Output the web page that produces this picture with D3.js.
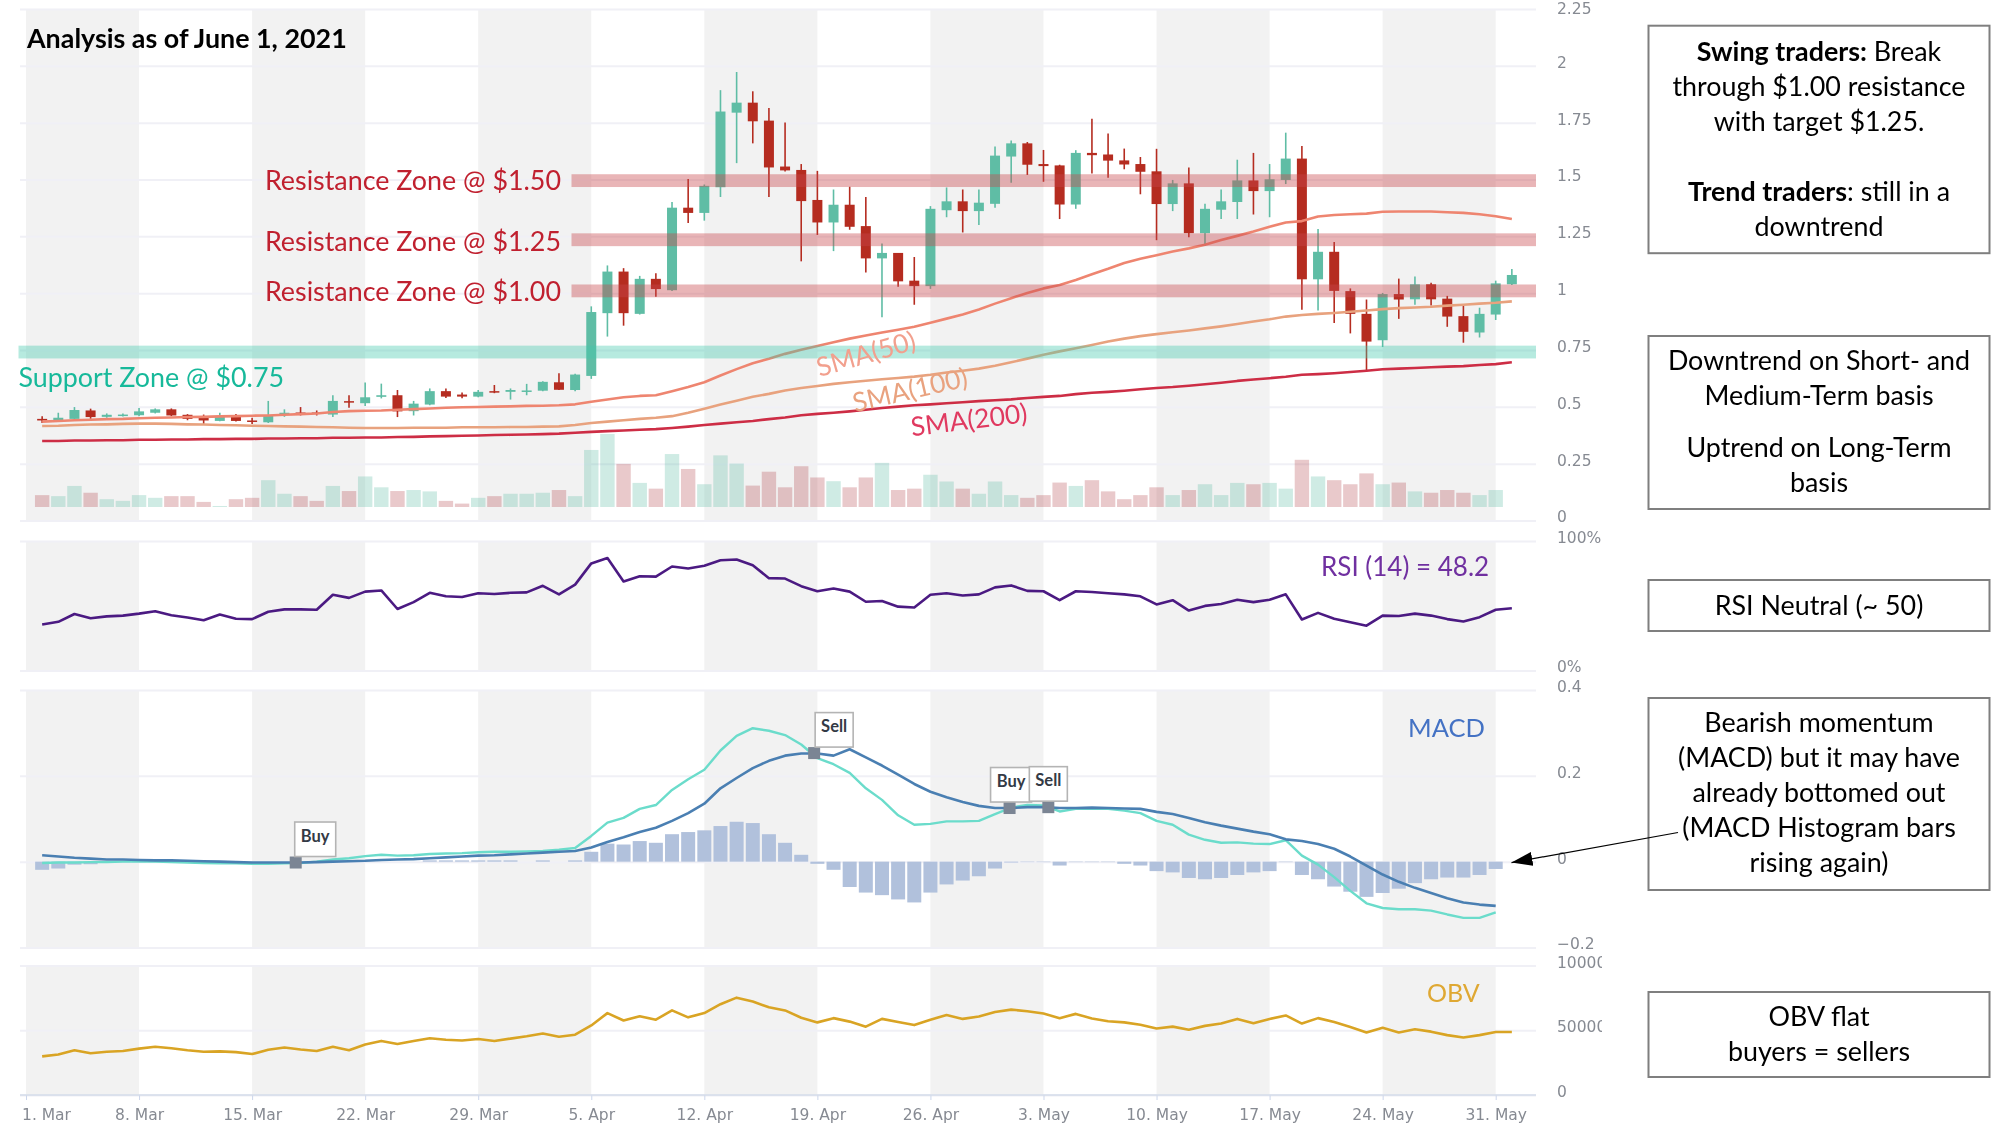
<!DOCTYPE html>
<html>
<head>
<meta charset="utf-8">
<title>Analysis as of June 1, 2021</title>
<script src="https://cdn.jsdelivr.net/npm/d3@7/dist/d3.min.js"></script>
<style>
	html, body { margin: 0; padding: 0; background: #fff; }
	svg { display: block; filter: blur(.4px); }
	text { font-family: Lato, "Open Sans", sans-serif; }
	.tick-label { font-family: "DejaVu Sans", sans-serif; font-size: 15.5px; fill: #868a92; }
</style>
</head>
<body>
<svg id="chart" width="1995" height="1125"></svg>
<script>
/* daily candles run 2 Mar to 1 Jun 2021 */
var opens = [
	.447,.440,.447,.484,.456,.460,.463,.474,.489,.465,
	.452,.438,.459,.440,.432,.465,.475,.475,.466,.525,
	.516,.544,.551,.481,.510,.569,.554,.545,.569,.566,
	.568,.571,.608,.574,.636,.912,1.095,.909,1.063,1.013,
	1.376,1.353,1.466,1.794,1.838,1.759,1.557,1.542,1.410,1.311,
	1.389,1.295,1.153,1.177,1.055,1.031,1.365,1.404,1.361,1.393,
	1.601,1.659,1.568,1.562,1.390,1.617,1.610,1.584,1.568,1.536,
	1.392,1.483,1.264,1.367,1.401,1.496,1.449,1.498,1.592,1.061,
	1.182,1.009,.909,.793,.996,.973,1.039,.976,.899,.827,
	.906,1.039
];
var highs = [
	.459,.474,.499,.492,.471,.471,.495,.493,.493,.468,
	.466,.474,.468,.452,.526,.489,.499,.484,.551,.551,
	.607,.602,.574,.526,.581,.581,.563,.574,.596,.581,
	.601,.613,.648,.645,.942,1.122,1.110,1.076,1.088,1.401,
	1.502,1.478,1.893,1.973,1.888,1.815,1.751,1.568,1.538,1.456,
	1.468,1.423,1.219,1.177,1.159,1.383,1.465,1.456,1.456,1.645,
	1.672,1.665,1.630,1.565,1.629,1.767,1.702,1.636,1.599,1.635,
	1.498,1.553,1.393,1.456,1.587,1.617,1.568,1.706,1.647,1.282,
	1.225,1.021,.972,1.001,1.064,1.073,1.046,.988,.946,.936,
	1.055,1.106
];
var lows = [
	.429,.437,.440,.447,.452,.458,.459,.471,.459,.441,
	.425,.437,.435,.425,.429,.456,.462,.462,.455,.496,
	.504,.537,.455,.462,.507,.539,.538,.542,.560,.532,
	.551,.569,.574,.569,.623,.809,.857,.906,.984,1.010,
	1.309,1.319,1.423,1.572,1.659,1.423,1.535,1.140,1.256,1.185,
	1.279,1.091,.894,1.028,.949,1.019,1.334,1.267,1.300,1.376,
	1.486,1.520,1.490,1.326,1.371,1.526,1.508,1.545,1.435,1.233,
	1.361,1.246,1.207,1.326,1.326,1.346,1.334,1.480,.927,.924,
	.869,.823,.656,.763,.887,.949,.946,.852,.782,.805,
	.882,1.036
];
var closes = [
	.440,.452,.486,.455,.465,.466,.480,.489,.462,.447,
	.440,.459,.438,.434,.462,.474,.469,.469,.526,.519,
	.542,.551,.480,.514,.569,.545,.545,.566,.563,.574,
	.572,.610,.575,.642,.917,1.095,.912,1.063,1.018,1.376,
	1.353,1.472,1.799,1.838,1.756,1.553,1.540,1.405,1.311,1.389,
	1.292,1.153,1.177,1.052,1.031,1.371,1.404,1.361,1.398,1.605,
	1.659,1.565,1.559,1.390,1.617,1.607,1.583,1.566,1.534,1.392,
	1.483,1.264,1.371,1.404,1.496,1.449,1.501,1.592,1.061,1.182,
	1.010,.909,.787,.996,.972,1.039,.973,.897,.830,.909,
	1.043,1.080
];
var volumes = [
	35,32,62,42,23,18,35,27,32,32,
	15,3,23,27,79,39,32,18,62,47,
	90,58,47,50,46,18,10,27,32,39,
	39,42,50,32,168,215,127,71,54,156,
	112,67,152,128,63,104,58,120,87,76,
	58,87,130,50,54,95,75,54,39,75,
	35,27,35,72,62,79,46,23,35,58,
	35,50,67,35,71,67,71,54,139,90,
	79,67,99,67,72,46,42,50,42,35,
	50
];
var sma50 = [
	.435,.438,.441,.443,.446,.447,.450,.452,.453,.455,
	.456,.458,.459,.461,.462,.465,.468,.471,.477,.481,
	.483,.484,.487,.490,.493,.496,.498,.499,.501,.502,
	.504,.505,.507,.511,.522,.532,.542,.548,.551,.569,
	.587,.608,.638,.666,.692,.711,.733,.751,.768,.784,
	.800,.814,.827,.839,.852,.870,.888,.906,.928,.954,
	.978,1.001,1.021,1.036,1.058,1.083,1.107,1.133,1.151,1.167,
	1.183,1.197,1.213,1.234,1.252,1.271,1.292,1.311,1.317,1.337,
	1.344,1.347,1.350,1.358,1.359,1.359,1.359,1.356,1.353,1.347,
	1.338,1.326
];
var sma100 = [
	.416,.417,.420,.422,.423,.425,.426,.426,.425,.423,
	.422,.420,.419,.417,.416,.414,.413,.411,.410,.408,
	.407,.407,.407,.408,.408,.408,.410,.410,.410,.411,
	.411,.413,.414,.420,.429,.435,.441,.447,.452,.459,
	.474,.492,.510,.527,.544,.557,.572,.583,.592,.601,
	.608,.615,.621,.627,.633,.641,.651,.659,.668,.681,
	.696,.712,.729,.744,.758,.772,.787,.800,.811,.820,
	.828,.836,.845,.854,.864,.875,.885,.897,.904,.909,
	.913,.918,.924,.930,.934,.937,.940,.945,.949,.954,
	.958,.964
];
var sma200 = [
	.350,.350,.352,.352,.353,.353,.355,.355,.356,.356,
	.358,.358,.359,.359,.361,.361,.362,.362,.364,.364,
	.365,.365,.367,.368,.370,.371,.373,.374,.376,.377,
	.378,.380,.382,.386,.390,.393,.396,.399,.402,.407,
	.413,.420,.426,.432,.438,.446,.453,.463,.469,.474,
	.480,.487,.495,.501,.507,.511,.516,.520,.525,.529,
	.533,.539,.544,.548,.556,.562,.566,.571,.577,.583,
	.587,.593,.599,.606,.614,.620,.626,.632,.641,.644,
	.648,.653,.659,.665,.668,.671,.674,.677,.679,.684,
	.688,.696
];
var rsi = [
	35.5,37.6,43.6,40.3,41.8,42.4,43.9,45.7,42.7,40.9,
	38.8,43.3,40.0,39.7,45.4,47.2,47.2,46.9,58.5,56.1,
	60.9,61.8,47.5,52.8,60.0,57.3,56.7,59.7,59.1,60.0,
	60.3,65.4,58.8,66.3,82.7,86.9,68.7,72.8,72.5,80.3,
	78.8,80.9,85.1,85.7,81.2,71.3,71.0,65.1,61.2,63.3,
	60.9,53.1,53.7,49.3,48.7,58.5,59.7,57.9,58.8,64.2,
	65.7,61.5,61.2,54.3,61.2,60.6,59.7,58.8,57.3,51.0,
	54.3,46.3,49.9,51.3,54.6,52.8,54.6,58.8,39.4,44.5,
	40.0,37.3,34.6,42.4,42.1,43.9,42.4,39.7,37.9,41.2,
	46.9,48.1
];
var macdLine = [
	.015,.012,.009,.007,.005,.005,.004,.003,.003,.002,
	.001,0,-.001,-.002,-.002,-.002,-.002,-.001,0,.001,
	.002,.004,.005,.006,.008,.010,.012,.014,.015,.017,
	.019,.021,.023,.025,.033,.046,.057,.069,.079,.095,
	.113,.135,.171,.195,.218,.235,.247,.252,.252,.247,
	.262,.243,.224,.203,.181,.163,.150,.139,.130,.125,
	.125,.127,.127,.125,.125,.126,.125,.124,.123,.116,
	.111,.102,.092,.084,.077,.070,.064,.052,.048,.041,
	.030,.012,-.009,-.030,-.047,-.061,-.073,-.085,-.095,-.100,
	-.103
];
var macdSignal = [
	-.003,-.002,-.002,-.001,-.001,0,0,0,-.001,-.002,
	-.003,-.004,-.004,-.005,-.005,-.004,-.003,0,.005,.008,
	.013,.016,.014,.015,.018,.019,.020,.022,.023,.023,
	.024,.025,.028,.032,.060,.091,.102,.123,.132,.167,
	.192,.214,.259,.293,.311,.305,.295,.273,.241,.227,
	.207,.171,.144,.108,.086,.088,.094,.094,.095,.111,
	.126,.132,.131,.117,.123,.124,.123,.119,.113,.095,
	.086,.063,.051,.044,.045,.042,.041,.050,.014,-.007,
	-.036,-.068,-.097,-.108,-.111,-.111,-.114,-.123,-.131,-.131,
	-.118
];
var macdHist = [
	-.019,-.016,-.007,-.006,-.002,-.001,-.001,-.001,0,0,
	0,0,0,0,0,0,0,0,0,0,
	0,0,0,0,.003,.003,.003,.003,.003,.003,
	0,.003,0,.003,.023,.042,.040,.048,.044,.064,
	.069,.073,.083,.093,.090,.064,.044,.016,-.005,-.019,
	-.059,-.072,-.078,-.088,-.095,-.072,-.053,-.044,-.034,-.016,
	-.002,-.001,-.001,-.009,-.001,-.001,-.001,-.005,-.009,-.022,
	-.025,-.038,-.041,-.038,-.031,-.025,-.022,-.001,-.031,-.041,
	-.058,-.070,-.082,-.073,-.063,-.050,-.041,-.037,-.037,-.031,
	-.017
];
var obv = [
	29850,31340,34630,32240,33430,34030,35820,37310,36120,34630,
	33430,33730,33130,31640,34920,36720,35220,34030,37310,34630,
	39100,41790,39400,41790,43880,42690,42090,43280,41790,43580,
	45370,47460,45070,46570,53730,63280,57610,60890,58210,65370,
	60000,63280,70150,75220,72240,67760,65370,59700,56120,59400,
	56720,52830,58810,56420,54030,58210,61790,58810,60600,64180,
	65970,64780,62980,59400,62690,59100,57010,56120,54330,51340,
	52830,50450,53430,55220,58810,55520,58810,61490,55220,59400,
	56420,52540,48360,51940,48360,50750,48950,46270,44480,46270,
	48660,48660
];

var weekDays = [0, 7, 14, 21, 28, 35, 42, 49, 56, 63, 70, 77, 84, 91];
var weekLabels = ["1. Mar", "8. Mar", "15. Mar", "22. Mar", "29. Mar", "5. Apr", "12. Apr", "19. Apr", "26. Apr", "3. May", "10. May", "17. May", "24. May", "31. May"];
var priceTicks = [0, .25, .5, .75, 1, 1.25, 1.5, 1.75, 2, 2.25];
var rsiTicks = [0, 100];
var macdTicks = [-.2, 0, .2, .4];
var obvTicks = [0, 50000, 100000];
var resistanceLevels = [1.495, 1.235, 1.01];
var resistanceLabels = ["Resistance Zone @ $1.50", "Resistance Zone @ $1.25", "Resistance Zone @ $1.00"];
var supportLevel = .741;
var flagDays = [16.7, 48.8, 60.9, 63.3];
var flagValues = [-.002, .253, .125, .127];
var flagNames = ["Buy", "Sell", "Buy", "Sell"];

var svg = d3.select("#chart");
var leftX = 20, rightX = 1536;
var GREEN = "#5fbda5", RED = "#b52c20";

var xDay = d3.scaleLinear().domain([0, 91]).range([26, 1495.7]);
// candle i is the day after the day-offset i, so 2 Mar lands one step right of the 1 Mar tick
var xCandle = function (i) { return xDay(i + 1); };

var yPrice = d3.scaleLinear().domain([0, 2.25]).range([520.5, 9]);
var yVol = d3.scaleLinear().domain([0, 215]).range([507, 434]);
var yRsi = d3.scaleLinear().domain([0, 100]).range([670.5, 541]);
var yMacd = d3.scaleLinear().domain([-.2, .4]).range([947.5, 690]);
var yObv = d3.scaleLinear().domain([0, 100000]).range([1095, 965.6]);

var panels = [
	{ y: yPrice, ticks: priceTicks, fmt: function (d) { return String(d); } },
	{ y: yRsi, ticks: rsiTicks, fmt: function (d) { return d + "%"; } },
	{ y: yMacd, ticks: macdTicks, fmt: function (d) { return d < 0 ? "\u2212" + Math.abs(d) : String(d); } },
	{ y: yObv, ticks: obvTicks, fmt: function (d) { return String(d); } }
];

// clip the axis labels: the long OBV labels get cut off in the original
svg.append("clipPath").attr("id", "axisClip").append("rect")
	.attr("x", 1540).attr("y", 0).attr("width", 62).attr("height", 1125);

// grey week bands, grid lines and the labels on the right
panels.forEach(function (p) {
	var range = p.y.range();
	for (var w = 0; w < weekDays.length - 1; w += 2) {
		svg.append("rect")
			.attr("x", xDay(weekDays[w]))
			.attr("y", range[1])
			.attr("width", xDay(weekDays[w + 1]) - xDay(weekDays[w]))
			.attr("height", range[0] - range[1])
			.attr("fill", "#f2f2f2");
	}
	var grid = d3.axisRight(p.y).tickValues(p.ticks).tickSize(rightX - leftX).tickFormat("");
	var g = svg.append("g").attr("transform", "translate(" + leftX + ",0)").call(grid);
	g.select(".domain").remove();
	g.selectAll(".tick line").attr("stroke", "#f0f0f6").attr("stroke-width", 2);

	var labels = d3.axisRight(p.y).tickValues(p.ticks).tickSize(0).tickPadding(0).tickFormat(p.fmt);
	var lg = svg.append("g").attr("clip-path", "url(#axisClip)")
		.append("g").attr("transform", "translate(1557,-3.5)").call(labels);
	lg.select(".domain").remove();
	lg.selectAll(".tick text").attr("class", "tick-label");
	// 2.25 would otherwise touch the top of the page
	lg.selectAll(".tick text").filter(function (d) { return d === 2.25; }).attr("dy", "0.5em");
});

// volume behind the candles
svg.append("g").selectAll("rect").data(volumes).join("rect")
	.attr("x", function (d, i) { return xCandle(i) - 7.2; })
	.attr("y", function (d) { return yVol(d); })
	.attr("width", 14.4)
	.attr("height", function (d) { return yVol(0) - yVol(d); })
	.attr("fill", function (d, i) { return closes[i] >= opens[i] ? "rgba(95,190,165,.3)" : "rgba(176,60,70,.28)"; });

// candles
var candles = svg.append("g").selectAll("g").data(d3.range(opens.length)).join("g")
	.attr("fill", function (i) { return closes[i] >= opens[i] ? GREEN : RED; })
	.attr("stroke", function (i) { return closes[i] >= opens[i] ? GREEN : RED; });
candles.append("line")
	.attr("x1", function (i) { return xCandle(i); })
	.attr("x2", function (i) { return xCandle(i); })
	.attr("y1", function (i) { return yPrice(highs[i]); })
	.attr("y2", function (i) { return yPrice(lows[i]); })
	.attr("stroke-width", 1.6);
candles.append("rect")
	.attr("x", function (i) { return xCandle(i) - 5; })
	.attr("y", function (i) { return yPrice(Math.max(opens[i], closes[i])); })
	.attr("width", 10)
	.attr("height", function (i) { return Math.max(1.5, Math.abs(yPrice(opens[i]) - yPrice(closes[i]))); })
	.attr("stroke", "none");

function drawLine(values, y, color, width) {
	var line = d3.line()
		.x(function (d, i) { return xCandle(i); })
		.y(function (d) { return y(d); });
	svg.append("path")
		.attr("d", line(values))
		.attr("fill", "none")
		.attr("stroke", color)
		.attr("stroke-width", width)
		.attr("stroke-linejoin", "round");
}

drawLine(sma200, yPrice, "#cd2d45", 2.6);
drawLine(sma100, yPrice, "#e8a27e", 2.6);
drawLine(sma50, yPrice, "#ee8570", 2.6);

// zones sit over the candles, that is why bodies look muddy inside them
svg.append("g").selectAll("rect").data(resistanceLevels).join("rect")
	.attr("x", 571.5)
	.attr("y", function (d) { return yPrice(d) - 6.4; })
	.attr("width", rightX - 571.5)
	.attr("height", 12.8)
	.attr("fill", "rgba(200,70,75,.4)");
svg.append("rect")
	.attr("x", 18.5)
	.attr("y", yPrice(supportLevel) - 6.4)
	.attr("width", rightX - 18.5)
	.attr("height", 12.8)
	.attr("fill", "rgba(64,200,170,.38)");

// RSI
drawLine(rsi, yRsi, "#4b1a82", 2.6);

// MACD histogram, lines, flags
svg.append("g").selectAll("rect").data(macdHist).join("rect")
	.attr("x", function (d, i) { return xCandle(i) - 7; })
	.attr("y", function (d) { return Math.min(yMacd(d), yMacd(0)); })
	.attr("width", 14)
	.attr("height", function (d) { return Math.abs(yMacd(d) - yMacd(0)); })
	.attr("fill", "#b1c1dc");
drawLine(macdSignal, yMacd, "#6bdccb", 2.4);
drawLine(macdLine, yMacd, "#4a7fb2", 2.6);

// the first two flag boxes hang off to the right of their marker, the last two are centred on it
var flagBoxLeft = [-1, 1, -19, -19];
var flags = svg.append("g").selectAll("g").data(flagNames).join("g")
	.attr("transform", function (d, i) { return "translate(" + xDay(flagDays[i]) + "," + yMacd(flagValues[i]) + ")"; });
flags.append("rect")
	.attr("x", -6).attr("y", -6).attr("width", 12).attr("height", 12).attr("fill", "#7b8594");
flags.append("rect")
	.attr("x", function (d, i) { return flagBoxLeft[i]; })
	.attr("y", -40.5)
	.attr("width", function (d) { return d === "Buy" ? 41 : 38; })
	.attr("height", 34.5)
	.attr("fill", "#fff")
	.attr("stroke", "#b4b4b4")
	.attr("stroke-width", 1.6);
flags.append("text")
	.attr("x", function (d, i) { return flagBoxLeft[i] + (d === "Buy" ? 20.5 : 19); })
	.attr("y", -21)
	.attr("text-anchor", "middle")
	.attr("font-size", 16.5)
	.attr("font-weight", 700)
	.attr("fill", "#333a45")
	.text(function (d) { return d; });

// OBV
drawLine(obv, yObv, "#d9a424", 2.6);

// date axis
var xAxis = d3.axisBottom(xDay).tickValues(weekDays).tickSize(5).tickFormat(function (d, i) { return weekLabels[i]; });
var xg = svg.append("g").attr("transform", "translate(0,1095)").call(xAxis);
xg.select(".domain").remove();
xg.selectAll(".tick line").attr("stroke", "#ccd6eb");
xg.selectAll(".tick text").attr("class", "tick-label").attr("y", 14);
xg.select(".tick text").attr("dx", 20);
svg.append("line").attr("x1", leftX).attr("x2", rightX).attr("y1", 1095).attr("y2", 1095)
	.attr("stroke", "#d5dcea").attr("stroke-width", 1.5);

// hand placed labels
svg.append("text").attr("x", 27).attr("y", 48).attr("font-size", 26.85).attr("font-weight", 700).attr("fill", "#000")
	.text("Analysis as of June 1, 2021");
svg.append("g").selectAll("text").data(resistanceLabels).join("text")
	.attr("x", 561)
	.attr("y", function (d, i) { return [190, 251, 301][i]; })
	.attr("text-anchor", "end")
	.attr("font-size", 26.85)
	.attr("fill", "#c0202f")
	.text(function (d) { return d; });
svg.append("text").attr("x", 18.5).attr("y", 387).attr("font-size", 26.85).attr("fill", "#17b99a").text("Support Zone @ $0.75");

var smaLabels = [
	{ t: "SMA(50)", x: 866, y: 354, r: -16, c: "#f2a08e" },
	{ t: "SMA(100)", x: 910, y: 390, r: -13, c: "#e9a27f" },
	{ t: "SMA(200)", x: 969, y: 420, r: -7, c: "#e03a60" }
];
smaLabels.forEach(function (s) {
	svg.append("text")
		.attr("transform", "translate(" + s.x + "," + s.y + ") rotate(" + s.r + ")")
		.attr("text-anchor", "middle")
		.attr("dy", "0.35em")
		.attr("font-size", 26.5)
		.attr("fill", s.c)
		.text(s.t);
});

svg.append("text").attr("x", 1321).attr("y", 576).attr("font-size", 26).attr("fill", "#7030a0").text("RSI (14) = 48.2");
svg.append("text").attr("x", 1408).attr("y", 737).attr("font-size", 25.5).attr("fill", "#4472c4").text("MACD");
svg.append("text").attr("x", 1427).attr("y", 1002).attr("font-size", 25).attr("fill", "#dfa833").text("OBV");

// right hand note boxes
var boxes = [
	{ y: 25.7, h: 227.5, lines: [
		{ y: 61, p: [["Swing traders:", 700], [" Break", 400]] },
		{ y: 96, p: [["through $1.00 resistance", 400]] },
		{ y: 131, p: [["with target $1.25.", 400]] },
		{ y: 201, p: [["Trend traders", 700], [": still in a", 400]] },
		{ y: 236, p: [["downtrend", 400]] }
	] },
	{ y: 336, h: 173, lines: [
		{ y: 370, p: [["Downtrend on Short- and", 400]] },
		{ y: 405, p: [["Medium-Term basis", 400]] },
		{ y: 457, p: [["Uptrend on Long-Term", 400]] },
		{ y: 492, p: [["basis", 400]] }
	] },
	{ y: 580, h: 51, lines: [
		{ y: 615, p: [["RSI Neutral (~ 50)", 400]] }
	] },
	{ y: 698, h: 192, lines: [
		{ y: 732, p: [["Bearish momentum", 400]] },
		{ y: 767, p: [["(MACD) but it may have", 400]] },
		{ y: 802, p: [["already bottomed out", 400]] },
		{ y: 837, p: [["(MACD Histogram bars", 400]] },
		{ y: 872, p: [["rising again)", 400]] }
	] },
	{ y: 992, h: 85, lines: [
		{ y: 1026, p: [["OBV flat", 400]] },
		{ y: 1061, p: [["buyers = sellers", 400]] }
	] }
];
boxes.forEach(function (b) {
	svg.append("rect")
		.attr("x", 1648.5).attr("y", b.y).attr("width", 341).attr("height", b.h)
		.attr("fill", "#fff").attr("stroke", "#7f7f7f").attr("stroke-width", 2);
	b.lines.forEach(function (l) {
		var t = svg.append("text")
			.attr("x", 1819).attr("y", l.y)
			.attr("text-anchor", "middle")
			.attr("font-size", 26.85)
			.attr("fill", "#000")
			.attr("xml:space", "preserve");
		l.p.forEach(function (part) {
			t.append("tspan").attr("font-weight", part[1]).text(part[0]);
		});
	});
});

// arrow from the MACD note to the histogram
svg.append("defs").append("marker")
	.attr("id", "arrowHead")
	.attr("markerUnits", "userSpaceOnUse")
	.attr("markerWidth", 22).attr("markerHeight", 14)
	.attr("refX", 21).attr("refY", 7)
	.attr("orient", "auto")
	.append("path").attr("d", "M0,0L21,7L0,14Z").attr("fill", "#000");
svg.append("line")
	.attr("x1", 1678).attr("y1", 832.5).attr("x2", 1511.5).attr("y2", 862.6)
	.attr("stroke", "#000").attr("stroke-width", 1.2)
	.attr("marker-end", "url(#arrowHead)");
</script>
</body>
</html>
